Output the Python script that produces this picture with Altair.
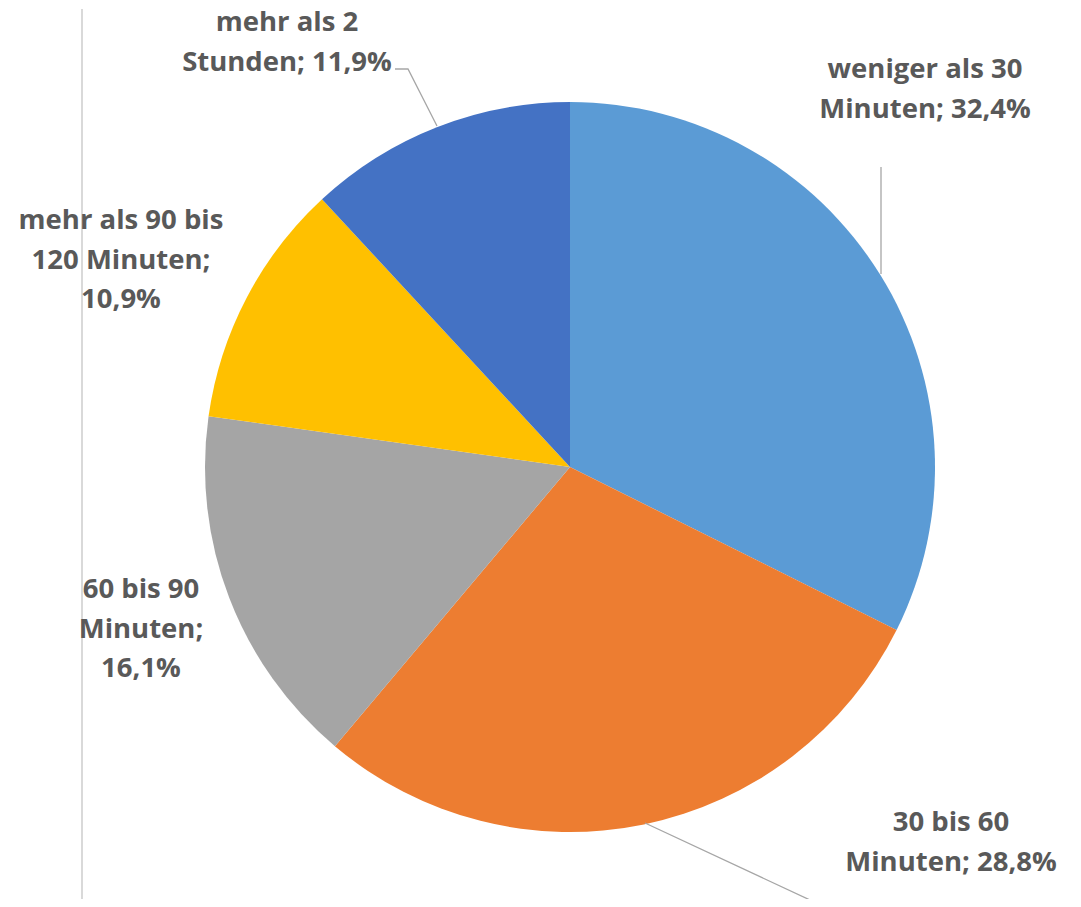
import altair as alt
import pandas as pd

# Slices, clockwise from 12 o'clock
categories = ["weniger als 30 Minuten", "30 bis 60 Minuten", "60 bis 90 Minuten",
              "mehr als 90 bis 120 Minuten", "mehr als 2 Stunden"]
shares = [32.4, 28.8, 16.1, 10.9, 11.9]
colors = ["#5B9BD5", "#ED7D31", "#A5A5A5", "#FFC000", "#4472C4"]

# Data labels (lines as shown)
label_lines = [
    ["weniger als 30", "Minuten; 32,4%"],
    ["30 bis 60", "Minuten; 28,8%"],
    ["60 bis 90", "Minuten;", "16,1%"],
    ["mehr als 90 bis", "120 Minuten;", "10,9%"],
    ["mehr als 2", "Stunden; 11,9%"],
]

# Layout (page pixel coordinates)
W, H = 1065, 891
CX, CY, R = 570, 466, 365
label_x = [925, 951, 141, 121, 287]
label_baseline0 = [77, 830, 597, 228, 30]
line_step = 39.5
leader_x = [[881, 881], [645, 825, 837], [], [], [395, 408, 437]]
leader_y = [[166, 273], [822, 906, 906], [], [], [68, 68, 125]]

pie_df = pd.DataFrame({"cat": categories, "share": shares, "ord": list(range(len(categories)))})

txt_rows = []
for i, lines in enumerate(label_lines):
    for j, t in enumerate(lines):
        txt_rows.append({"t": t, "x": label_x[i], "y": label_baseline0[i] + j * line_step})
txt_df = pd.DataFrame(txt_rows)

lead_rows = []
for i in range(len(categories)):
    for k, (lx, ly) in enumerate(zip(leader_x[i], leader_y[i])):
        lead_rows.append({"g": i, "k": k, "x": lx, "y": ly})
lead_df = pd.DataFrame(lead_rows)

xs = alt.Scale(domain=[8, 8 + W], range=[0, W])
ys = alt.Scale(domain=[8, 8 + H], range=[0, H])

pie = alt.Chart(pie_df).mark_arc(radius=R).encode(
    theta=alt.Theta("share:Q", stack=True),
    order=alt.Order("ord:Q"),
    color=alt.Color("cat:N", scale=alt.Scale(domain=categories, range=colors), legend=None),
    x=alt.value(CX - 8),
    y=alt.value(CY - 8),
)

frame = alt.Chart(pd.DataFrame({"x": [82], "y": [8], "y2": [8 + H]})).mark_rule(
    color="#D9D9D9", strokeWidth=2
).encode(
    x=alt.X("x:Q", scale=xs, axis=None),
    y=alt.Y("y:Q", scale=ys, axis=None),
    y2="y2:Q",
)

leaders = alt.Chart(lead_df).mark_line(color="#A6A6A6", strokeWidth=1.3).encode(
    x=alt.X("x:Q", scale=xs, axis=None),
    y=alt.Y("y:Q", scale=ys, axis=None),
    detail="g:N",
    order="k:Q",
)

labels = alt.Chart(txt_df).mark_text(
    font="Open Sans", fontWeight="bold", fontSize=27.5, color="#595959",
    align="center", baseline="alphabetic",
).encode(
    x=alt.X("x:Q", scale=xs, axis=None),
    y=alt.Y("y:Q", scale=ys, axis=None),
    text="t:N",
)

chart = alt.layer(frame, pie, leaders, labels).properties(
    width=W, height=H,
    autosize=alt.AutoSizeParams(type="fit", contains="padding"),
    padding=0,
).configure_view(stroke=None)

chart.save("out.html", embed_options={"renderer": "svg", "actions": False})
